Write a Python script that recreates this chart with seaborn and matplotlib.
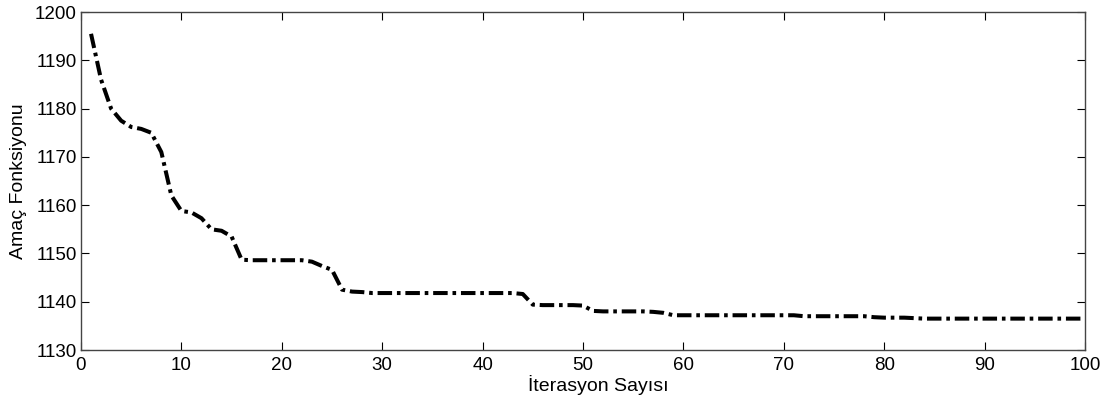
# ------------------------
# import packages
# ------------------------
import numpy as np
import pandas as pd
import matplotlib
matplotlib.use("Agg")
import matplotlib.pyplot as plt
import seaborn as sns

# ------------------------
# data
# ------------------------
iterations = list(range(1, 101))
objective = (
    [1195.5, 1186.0, 1180.0, 1177.5, 1176.2, 1175.8, 1175.0, 1171.0, 1162.0, 1158.8,
     1158.5, 1157.3, 1155.0, 1154.7, 1153.5, 1148.7, 1148.6, 1148.6, 1148.6, 1148.6,
     1148.6, 1148.6, 1148.3, 1147.4, 1146.6, 1142.5, 1142.1, 1142.0, 1141.8, 1141.8]
    + [1141.8] * 13
    + [1141.6, 1139.4, 1139.3, 1139.3, 1139.3, 1139.3, 1139.2, 1138.1, 1138.0, 1138.0,
       1138.0, 1138.0, 1138.0, 1137.9, 1137.7, 1137.2]
    + [1137.2] * 12
    + [1137.0] * 7
    + [1136.8, 1136.7, 1136.7, 1136.7, 1136.6]
    + [1136.5] * 17
)

x_ticks = list(range(0, 101, 10))
y_ticks = list(range(1130, 1201, 10))

dta = pd.DataFrame({"iter": iterations, "obj": objective})

# ------------------------
# plot
# ------------------------
sns.set_style("ticks")
plt.rcParams['font.family'] = ['Liberation Sans', 'DejaVu Sans']
plt.rcParams['text.color'] = 'black'
plt.rcParams['axes.labelcolor'] = 'black'
plt.rcParams['xtick.color'] = 'black'
plt.rcParams['ytick.color'] = 'black'

fig = plt.figure(figsize=(11.05, 4.03), dpi=100)
ax = fig.add_axes([0.0733, 0.1315, 0.9086, 0.8385])

sns.lineplot(data=dta, x="iter", y="obj", ax=ax, color="black",
             linewidth=2.9, linestyle=(0, (3.6, 1.2, 0.9, 1.2)))

ax.set_xlim(0, 100)
ax.set_ylim(1130, 1200)
ax.set_xticks(x_ticks)
ax.set_yticks(y_ticks)
ax.tick_params(direction="in", length=6, width=0.8, top=True, right=True,
               labelsize=13.5, colors="black")
ax.tick_params(axis="x", pad=5)
ax.tick_params(axis="y", pad=3)
for s in ax.spines.values():
    s.set_color("#444444")
    s.set_linewidth(1.0)
    s.set_visible(True)

ax.set_xlabel("İterasyon Sayısı", fontsize=14, labelpad=1)
ax.xaxis.label.set_x(0.515)
ax.set_ylabel("Amaç Fonksiyonu", fontsize=14, labelpad=6)

fig.savefig("out.png", dpi=100)
